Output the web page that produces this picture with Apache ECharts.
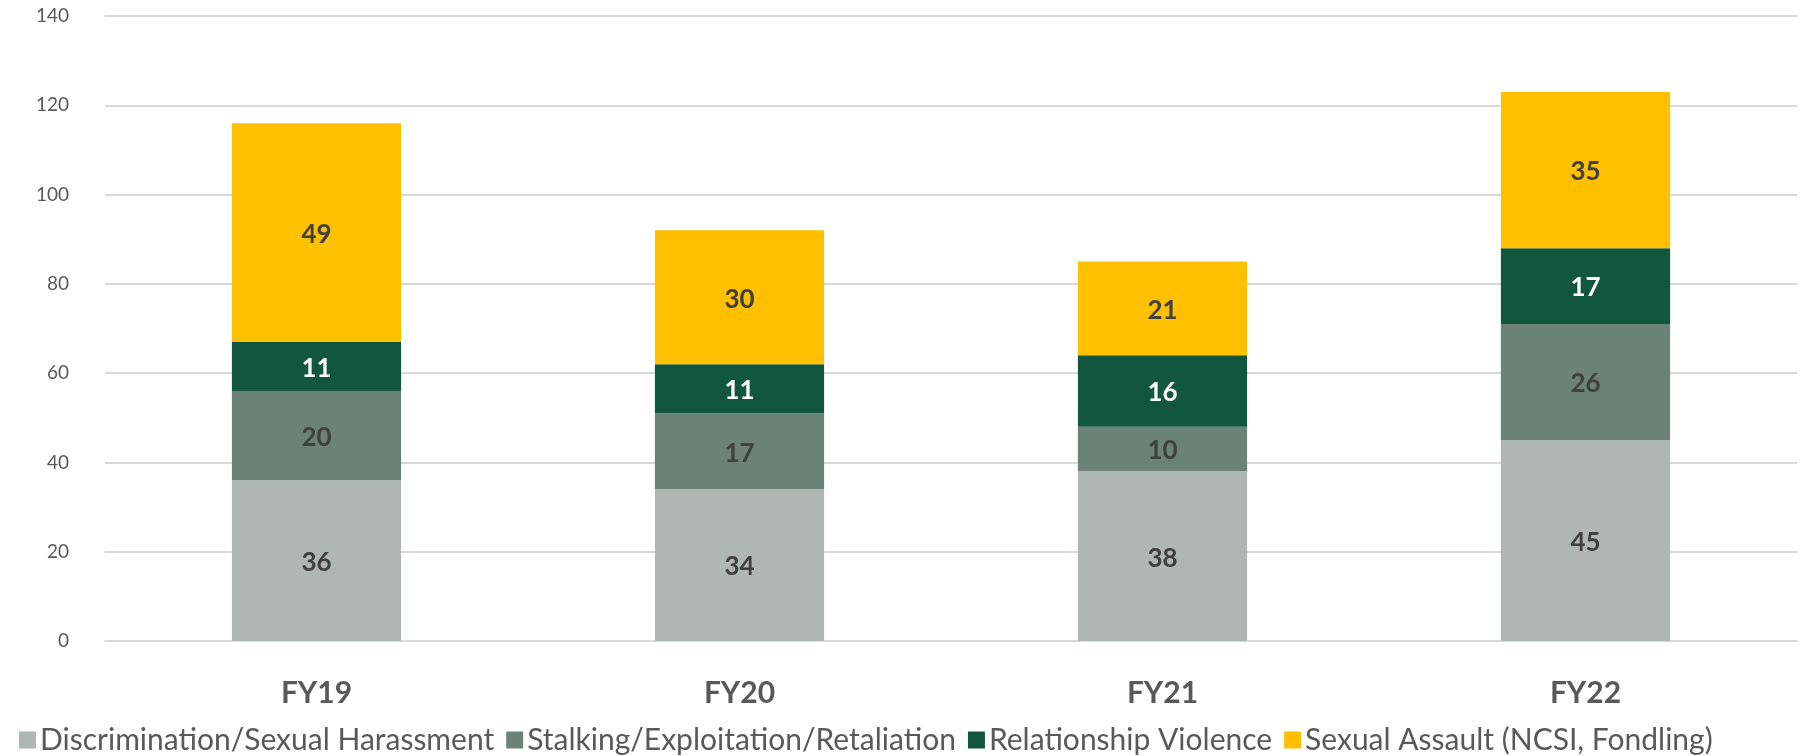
<!DOCTYPE html>
<html>
<head>
<meta charset="utf-8">
<script src="https://cdn.jsdelivr.net/npm/echarts@6/dist/echarts.min.js"></script>
<style>
html,body{margin:0;padding:0;background:#fff;}
#chart{width:1802px;height:756px;}
</style>
</head>
<body>
<div id="chart"></div>
<script>
const categories = ['FY19', 'FY20', 'FY21', 'FY22'];
const seriesNames = ['Discrimination/Sexual Harassment', 'Stalking/Exploitation/Retaliation', 'Relationship Violence', 'Sexual Assault (NCSI, Fondling)'];
const discrimination = [36, 34, 38, 45];
const stalking = [20, 17, 10, 26];
const relationship = [11, 11, 16, 17];
const assault = [49, 30, 21, 35];
const yTicks = { min: 0, max: 140, interval: 20 };

const colors = ['#AEB7B3', '#6B8278', '#115740', '#FFC000'];
const labelColors = ['#404040', '#404040', '#FFFFFF', '#404040'];
const font = 'Lato, "Noto Sans", sans-serif';
const values = [discrimination, stalking, relationship, assault];

const chart = echarts.init(document.getElementById('chart'));
chart.setOption({
  animation: false,
  backgroundColor: '#fff',
  grid: { left: 105, right: 5, top: 16, bottom: 115, containLabel: false },
  legend: {
    left: 14, top: 720,
    itemWidth: 17, itemHeight: 17, itemGap: 12,
    icon: 'rect',
    textStyle: { fontFamily: font, fontSize: 30, color: '#595959', padding: [0,0,0,-1] },
    data: seriesNames
  },
  xAxis: {
    type: 'category', data: categories,
    axisLine: { lineStyle: { color: '#D9D9D9', width: 2 } },
    axisTick: { show: false },
    axisLabel: { fontFamily: font, fontSize: 30, fontWeight: 'bold', color: '#595959', margin: 37 }
  },
  yAxis: {
    type: 'value', min: yTicks.min, max: yTicks.max, interval: yTicks.interval,
    axisLine: { show: false }, axisTick: { show: false },
    splitLine: { lineStyle: { color: '#D9D9D9', width: 2 } },
    axisLabel: { fontFamily: font, fontSize: 19, color: '#595959', margin: 36 }
  },
  series: seriesNames.map((name, i) => ({
    name, type: 'bar', stack: 'total', data: values[i],
    barWidth: '40%',
    itemStyle: { color: colors[i] },
    label: { show: true, position: 'inside', fontFamily: font, fontSize: 26, fontWeight: 'bold', color: labelColors[i], offset: [0, 2] }
  }))
});
</script>
</body>
</html>
